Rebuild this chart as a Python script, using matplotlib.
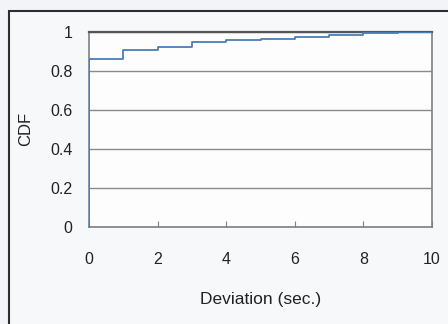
import matplotlib.pyplot as plt
from matplotlib.patches import Rectangle

deviation = [0, 0, 1, 2, 3, 4, 5, 6, 7, 8, 9, 10]
cdf = [0, 0.86, 0.903, 0.923, 0.944, 0.956, 0.964, 0.973, 0.983, 0.99, 0.995, 1.0]
x_ticks = [0, 2, 4, 6, 8, 10]
y_ticks = [0, 0.2, 0.4, 0.6, 0.8, 1]
y_tick_labels = ["0", "0.2", "0.4", "0.6", "0.8", "1"]

plt.rcParams['font.family'] = ['Liberation Sans', 'DejaVu Sans']

fig = plt.figure(figsize=(4.48, 3.24), dpi=100, facecolor='#f2f4f7')
# outer chart frame
fig.add_artist(Rectangle((9 / 448, -0.1), 1.2, 1.1 - 11 / 324,
                         transform=fig.transFigure, facecolor='#f7f8fa',
                         edgecolor='#2e2e2e', lw=1.5, zorder=0))

ax = fig.add_axes([89 / 448, 1 - 227 / 324, (432 - 89) / 448, (227 - 31.5) / 324])
ax.set_facecolor('#fdfdfe')
ax.step(deviation, cdf, where='post', color='#4a7ebb', lw=1.3, zorder=3)

ax.set_xlim(0, 10)
ax.set_ylim(0, 1)
ax.set_xticks(x_ticks)
ax.set_yticks(y_ticks)
ax.set_yticklabels(y_tick_labels)
ax.yaxis.grid(True, color='#8a8a8a', lw=1.0)
ax.set_axisbelow(True)
for s in ax.spines.values():
    s.set_color('#808080')
    s.set_linewidth(1.2)
ax.spines['top'].set_color('#555555')
ax.spines['top'].set_linewidth(1.6)

ax.tick_params(axis='x', direction='in', length=4, color='#808080', pad=18,
               labelsize=11.5, labelcolor='#222222')
ax.tick_params(axis='y', length=0, pad=12, labelsize=11.5, labelcolor='#222222')
ax.set_xlabel('Deviation (sec.)', fontsize=12.5, color='#222222', labelpad=18)
ax.set_ylabel('CDF', fontsize=12, color='#222222', labelpad=12)

fig.savefig('out.png', dpi=100, facecolor=fig.get_facecolor())
